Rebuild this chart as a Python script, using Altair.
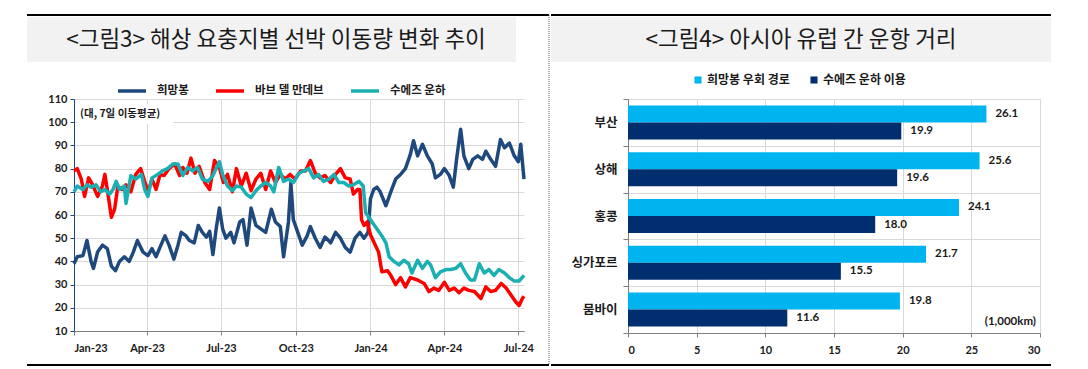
import altair as alt
import pandas as pd

# ---------------- Left panel data (7-day moving average, ships) ----------------
series_names = ["희망봉", "바브 델 만데브", "수에즈 운하"]
series_colors = ["#1F497D", "#FF0000", "#1AAFB2"]

cape_days = [0, 4, 11, 16, 21, 24, 29, 35, 41, 46, 51, 56, 62, 68, 73, 78, 85, 91, 96, 101,
             107, 112, 117, 123, 128, 132, 138, 142, 148, 153, 158, 163, 167, 171, 175, 179, 183, 187, 193, 197,
             204, 208, 213, 218, 224, 230, 236, 243, 248, 254, 258, 264, 267, 270, 274, 281, 287, 291, 297, 303,
             309, 316, 322, 328, 334, 340, 346, 352, 357, 362, 365, 369, 373, 377, 384, 390, 396, 402, 408, 414,
             418, 423, 429, 435, 441, 445, 451, 456, 462, 467, 471, 476, 480, 486, 491, 497, 503, 507, 513, 519,
             525, 530, 536, 542, 547, 550, 554]
cape_vals = [39, 42, 42.5, 49, 40, 37, 44, 47, 45.5, 38, 36, 40, 42, 40, 44, 49, 44, 42.5, 45.5, 42,
             47, 51, 47, 41, 47, 52.5, 51, 49, 48, 55.5, 52.5, 50.5, 53, 43, 54, 63, 54, 50, 52.5, 48,
             57, 58, 47, 63, 55.5, 54, 52.5, 62.5, 57, 55, 42, 57, 74, 58, 54, 47, 51, 55, 50, 46,
             50.5, 48, 52.5, 50, 46, 44, 50, 52.5, 50, 52.5, 67, 71, 72, 70, 64, 70, 75.5, 77.5, 80, 86,
             92, 85.5, 90.5, 85.5, 82, 76, 77.5, 80, 77, 72, 84, 97, 85.5, 80, 84, 85.5, 84, 87.5, 84, 81,
             92.5, 89, 91, 85.5, 83, 90.5, 75.5]

bab_days = [0, 4, 9, 13, 18, 23, 29, 35, 38, 41, 46, 50, 54, 59, 64, 70, 76, 82, 87, 91,
            96, 101, 106, 111, 117, 124, 130, 134, 139, 144, 149, 154, 161, 167, 173, 179, 184, 189, 195, 200,
            206, 212, 218, 224, 230, 236, 242, 248, 254, 260, 266, 272, 279, 285, 291, 297, 303, 309, 316, 322,
            328, 334, 340, 344, 349, 352, 354, 357, 361, 365, 371, 375, 379, 386, 390, 396, 402, 408, 414, 423,
            431, 437, 443, 449, 456, 462, 468, 474, 480, 486, 493, 501, 507, 513, 519, 526, 532, 538, 544, 548,
            552, 554]
bab_vals = [79, 80, 75.5, 68, 76, 73, 68, 72.5, 77.5, 71, 59, 62.5, 72.5, 71, 73, 70, 77.5, 80, 74.5, 70,
            75.5, 71, 77.5, 77, 80, 82, 77, 80.5, 78, 84.5, 78, 81, 74, 71, 83.5, 80.5, 74, 77.5, 70, 80,
            72.5, 78, 70.5, 75.5, 78, 71, 79, 74, 77.5, 75.5, 77.5, 75.5, 79, 79, 83.5, 78, 76, 77, 74, 77.5,
            80, 76, 75.5, 69, 71, 71, 58, 55.5, 57, 51.5, 47, 44, 35.5, 36, 34, 30, 33, 29, 33, 32,
            30.5, 27, 28.5, 27.5, 31, 27.5, 28.5, 26.5, 28.5, 27.5, 27, 24, 29, 27, 27.5, 30.5, 28.5, 25.5, 22.5, 21,
            24, 25]

suez_days = [0, 4, 11, 16, 21, 27, 33, 38, 44, 48, 52, 56, 62, 64, 70, 76, 83, 87, 91, 96,
             103, 109, 115, 122, 128, 134, 140, 146, 152, 158, 165, 171, 179, 183, 189, 195, 200, 206, 212, 218,
             224, 230, 236, 242, 246, 252, 258, 264, 270, 277, 283, 289, 295, 301, 307, 314, 320, 326, 332, 338,
             344, 351, 356, 359, 363, 367, 373, 379, 384, 388, 394, 400, 406, 412, 416, 423, 429, 435, 439, 445,
             451, 458, 464, 470, 476, 482, 488, 493, 499, 505, 511, 517, 523, 530, 536, 542, 548, 554]
suez_vals = [70, 72.5, 71, 73, 72, 73, 70, 71, 69, 71, 74.5, 71, 72.5, 65, 77, 75.5, 77.5, 71, 68, 76,
             77.5, 79, 80, 82, 82, 77, 80.5, 79, 80.5, 75.5, 74.5, 77, 83, 77.5, 72.5, 70.5, 72.5, 72, 69, 67.5,
             70.5, 72.5, 74, 72.5, 70, 80.5, 74.5, 75.5, 74, 78, 79, 80, 76, 77.5, 74.5, 75.5, 77.5, 74, 74, 72.5,
             73, 74.5, 72.5, 61, 59, 57, 54, 51, 48, 42, 40, 38.5, 40.5, 39, 35, 40.5, 37, 40, 38.5, 33,
             35.5, 36.5, 36.5, 37, 39, 35, 32, 32, 39, 35, 36.5, 34, 36.5, 35, 33, 31.5, 31.5, 34]

# ---------------- Right panel data (1,000km) ----------------
ports = ["부산", "상해", "홍콩", "싱가포르", "뭄바이"]
route_names = ["희망봉 우회 경로", "수에즈 운하 이용"]
route_colors = ["#00B4EF", "#002E6E"]
cape_route = [26.1, 25.6, 24.1, 21.7, 19.8]
suez_route = [19.9, 19.6, 18.0, 15.5, 11.6]

# ---------------- Build tables ----------------
base_date = pd.Timestamp("2023-01-01")


def to_dates(days):
    return [(base_date + pd.Timedelta(days=d)).strftime("%Y-%m-%dT00:00:00") for d in days]


rows = []
for name, days, vals in zip(series_names, [cape_days, bab_days, suez_days],
                            [cape_vals, bab_vals, suez_vals]):
    for d, v in zip(to_dates(days), vals):
        rows.append({"date": d, "value": v, "series": name})
line_df = pd.DataFrame(rows)

bar_rows = []
for p, a, b in zip(ports, cape_route, suez_route):
    bar_rows.append({"port": p, "route": route_names[0], "value": a})
    bar_rows.append({"port": p, "route": route_names[1], "value": b})
bar_df = pd.DataFrame(bar_rows)

KFONT = "Noto Sans CJK KR"
NFONT = "Lato"
TXT = "#1a1a1a"
GRID = "#D9D9D9"
one = pd.DataFrame({"k": [0]})

LW, LH = 450, 232
RW, RH = 412, 234


def deco(x_left, x_right, band_right, title_text, title_x):
    band = alt.Chart(one).mark_rect(color="#F2F2F2").encode(
        x=alt.value(x_left), x2=alt.value(band_right), y=alt.value(-82), y2=alt.value(-37))
    title = alt.Chart(one).mark_text(font=KFONT, fontSize=22.5, color=TXT, align="center",
                                     baseline="middle").encode(
        x=alt.value(title_x), y=alt.value(-59), text=alt.value(title_text))
    top = alt.Chart(one).mark_rule(color="black", strokeWidth=2).encode(
        x=alt.value(x_left), x2=alt.value(x_right), y=alt.value(-84))
    bot = alt.Chart(one).mark_rule(color="black", strokeWidth=2).encode(
        x=alt.value(x_left), x2=alt.value(x_right), y=alt.value(266))
    return [band, title, top, bot]


# ---------------- Left chart ----------------
quarters = [alt.DateTime(year=y, month=m, date=1) for y, m in
            [(2023, 1), (2023, 4), (2023, 7), (2023, 10), (2024, 1), (2024, 4), (2024, 7)]]

lines = alt.Chart(line_df).mark_line(strokeWidth=3.5, strokeJoin="round").encode(
    x=alt.X("date:T",
            scale=alt.Scale(domain=[alt.DateTime(year=2023, month=1, date=1),
                                    alt.DateTime(year=2024, month=7, date=8)]),
            axis=alt.Axis(values=quarters, format="%b-%y", title=None, labelAngle=0,
                          grid=True, gridColor=GRID, domainColor="#7F7F7F", tickColor="#7F7F7F",
                          tickSize=4, labelPadding=7, labelFont=NFONT, labelFontSize=11,
                          labelFontWeight="bold", labelColor=TXT)),
    y=alt.Y("value:Q", scale=alt.Scale(domain=[10, 110], nice=False),
            axis=alt.Axis(values=list(range(10, 111, 10)), title=None, grid=True, gridColor=GRID,
                          domainColor="#1F497D", tickColor="#1F497D", tickSize=4, labelPadding=3,
                          labelFont=NFONT, labelFontSize=11, labelFontWeight="bold", labelColor=TXT)),
    color=alt.Color("series:N", sort=series_names,
                    scale=alt.Scale(domain=series_names, range=series_colors),
                    legend=alt.Legend(orient="none", legendX=42, legendY=-24, direction="horizontal",
                                      title=None, symbolType="stroke", symbolSize=784,
                                      symbolStrokeWidth=3.5, labelFont=KFONT, labelFontSize=11.5,
                                      labelFontWeight="bold", labelColor=TXT, labelOffset=9,
                                      columnPadding=20)),
)

unit_box = alt.Chart(one).mark_rect(color="white").encode(
    x=alt.value(3), x2=alt.value(99), y=alt.value(5), y2=alt.value(25))
unit_txt = alt.Chart(one).mark_text(font=KFONT, fontSize=10.5, fontWeight="bold", color=TXT,
                                    align="left", baseline="middle").encode(
    x=alt.value(6), y=alt.value(15), text=alt.value("(대, 7일 이동평균)"))
sep = alt.Chart(one).mark_rule(color="#595959", strokeWidth=1, strokeDash=[1, 1]).encode(
    x=alt.value(475), y=alt.value(-84), y2=alt.value(266))

left = alt.layer(
    *deco(-47, 475, 442, "<그림3> 해상 요충지별 선박 이동량 변화 추이", 202),
    sep, unit_box, unit_txt, lines
).properties(width=LW, height=LH)

# ---------------- Right chart ----------------
rbase = alt.Chart(bar_df).encode(
    y=alt.Y("port:N", sort=ports, scale=alt.Scale(paddingInner=0, paddingOuter=0),
            axis=alt.Axis(title=None, tickBand="extent", grid=True, gridColor=GRID,
                          domainColor="#7F7F7F", tickColor="#7F7F7F", tickSize=5, labelPadding=6,
                          labelFont=KFONT, labelFontSize=12.5, labelFontWeight="bold",
                          labelColor=TXT)),
    x=alt.X("value:Q", scale=alt.Scale(domain=[0, 30], nice=False),
            axis=alt.Axis(values=[0, 5, 10, 15, 20, 25, 30], title=None, grid=True, gridColor=GRID,
                          domainColor="#7F7F7F", tickColor="#7F7F7F", tickSize=4, labelPadding=7,
                          labelFont=NFONT, labelFontSize=11, labelFontWeight="bold",
                          labelColor=TXT)),
    yOffset=alt.YOffset("route:N", sort=route_names,
                        scale=alt.Scale(paddingInner=0, paddingOuter=0.375)),
)
bars = rbase.mark_bar().encode(
    color=alt.Color("route:N", sort=route_names,
                    scale=alt.Scale(domain=route_names, range=route_colors),
                    legend=alt.Legend(orient="none", legendX=64, legendY=-25, direction="horizontal",
                                      title=None, symbolType="square", symbolSize=50,
                                      symbolStrokeWidth=0, labelFont=KFONT, labelFontSize=12,
                                      labelFontWeight="bold", labelColor=TXT, labelOffset=3,
                                      columnPadding=18)))
vals = rbase.mark_text(align="left", baseline="middle", dx=9, font=NFONT, fontSize=11.5,
                       fontWeight="bold", color=TXT).encode(
    text=alt.Text("value:Q", format=".1f"))
unit2 = alt.Chart(one).mark_text(font=NFONT, fontSize=11.5, fontWeight="bold", color=TXT,
                                 align="right", baseline="middle").encode(
    x=alt.value(408), y=alt.value(223), text=alt.value("(1,000km)"))

right = alt.layer(
    *deco(-77, 423, 423, "<그림4> 아시아 유럽 간 운항 거리", 173),
    bars, vals, unit2
).properties(width=RW, height=RH)

chart = alt.hconcat(left, right, spacing=0).properties(
    padding={"left": 18, "top": 6, "right": 5, "bottom": 0}
).configure_view(stroke=None).resolve_scale(color="independent")

chart.save("out.html", embed_options={"renderer": "svg", "actions": False})
